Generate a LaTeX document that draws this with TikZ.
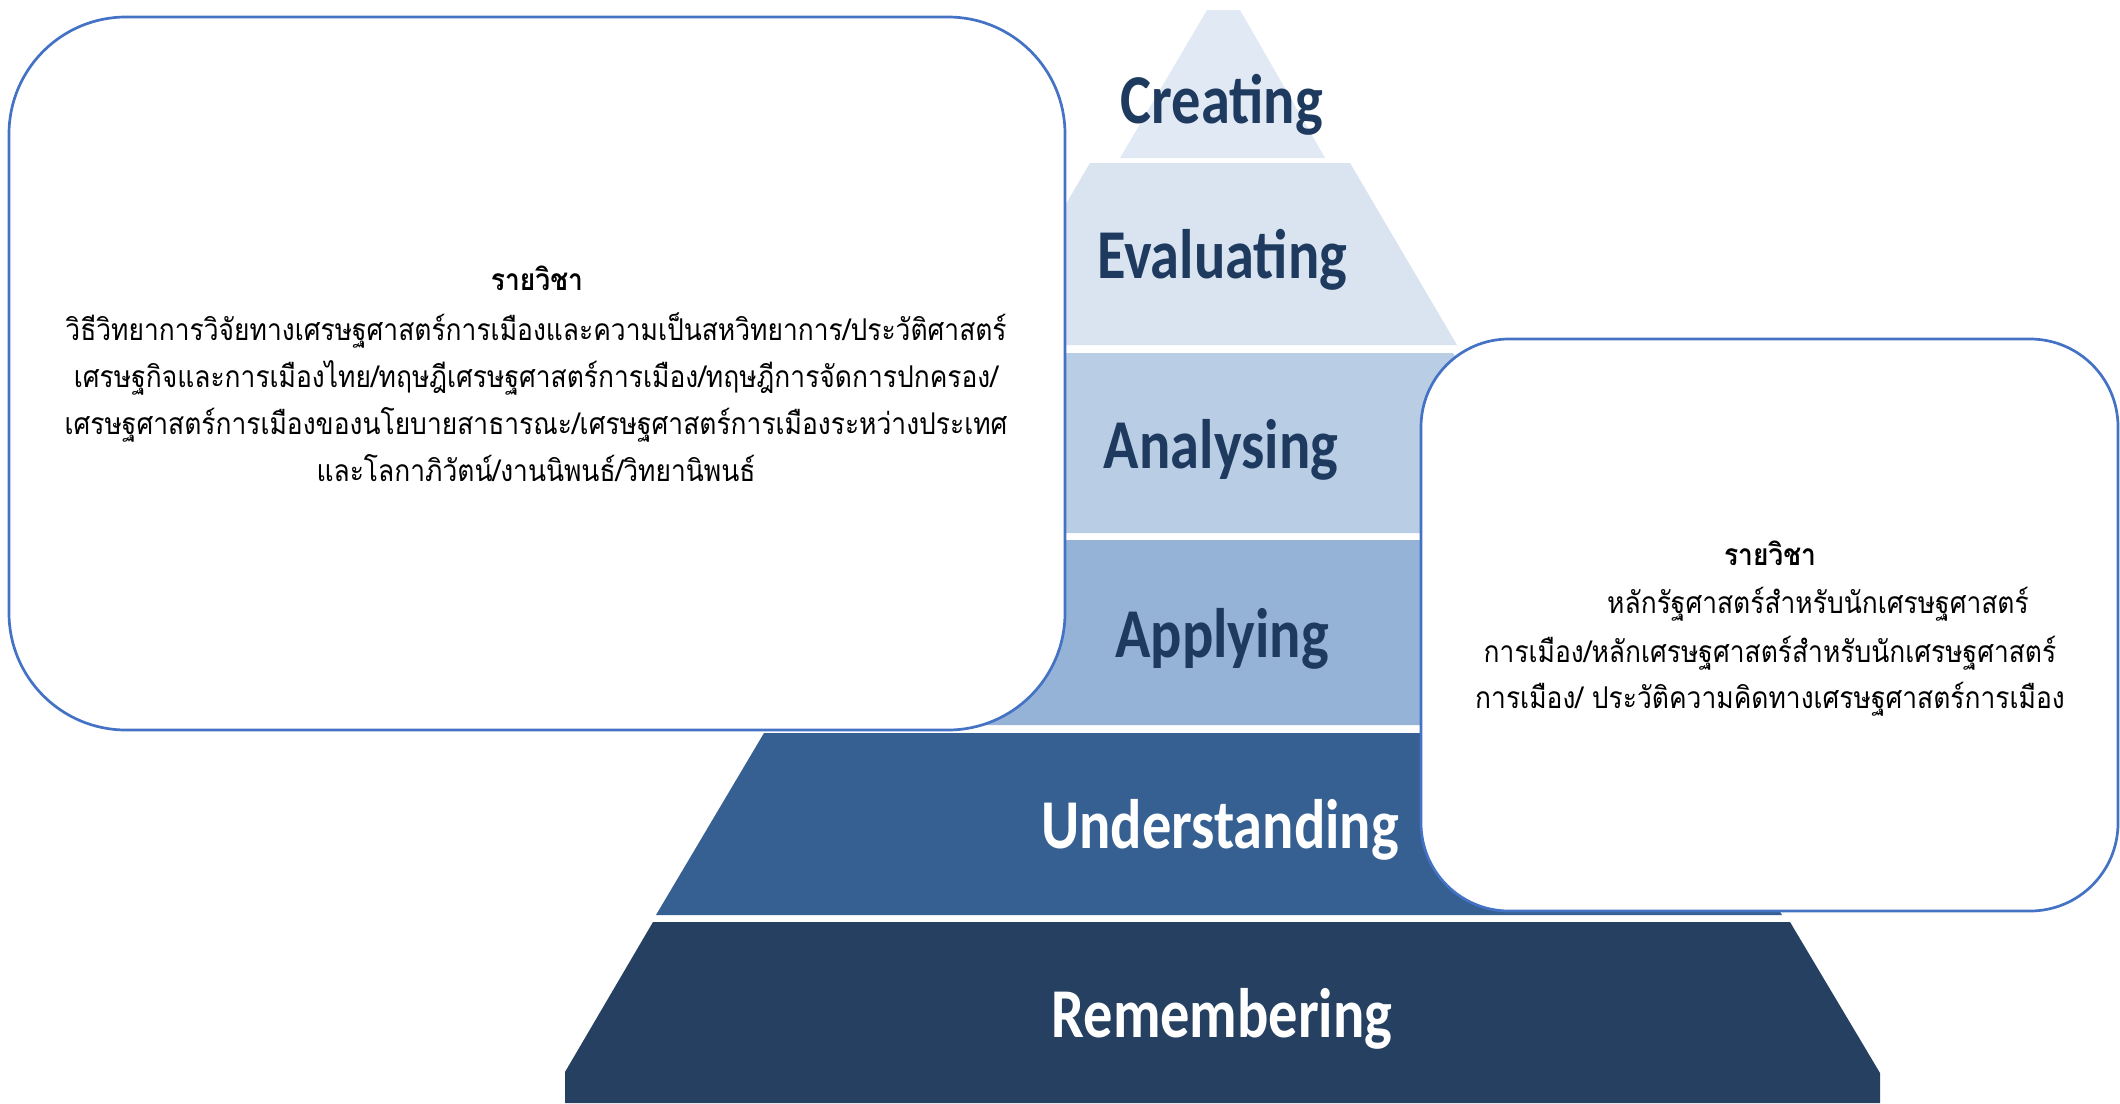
\documentclass[tikz,border=0pt]{standalone}
\usepackage{fontspec}
\newfontfamily\carlito{Carlito}
\newfontfamily\thaifont[Script=Thai]{Loma}
\definecolor{bCreate}{HTML}{E1E9F4}
\definecolor{bEval}{HTML}{DAE4F1}
\definecolor{bAnal}{HTML}{B9CDE5}
\definecolor{bApply}{HTML}{95B3D7}
\definecolor{bUnder}{HTML}{376092}
\definecolor{bRemem}{HTML}{254061}
\definecolor{labdark}{HTML}{1F3A5F}
\definecolor{boxline}{HTML}{4472C4}
\tikzset{
  lvl/.style={anchor=base, inner sep=0pt, font=\carlito\bfseries\fontsize{70}{80}\selectfont, xscale=0.835},
  lvldark/.style={lvl, text=labdark},
  lvllight/.style={lvl, text=white},
  card/.style={draw=boxline, line width=2.7pt, fill=white},
  thai/.style={anchor=base, inner sep=0pt, font=\thaifont\fontsize{30}{36}\selectfont, text=black, xscale=0.88},
  thaititle/.style={anchor=base, inner sep=0pt, font=\thaifont\bfseries\fontsize{30}{36}\selectfont, text=black, xscale=0.88},
}
\begin{document}
\begin{tikzpicture}[x=1pt,y=-1pt]
\useasboundingbox[fill=white] (0,0) rectangle (2120,1103);
% pyramid bands
\fill[bCreate] (1207,10) -- (1240,10) -- (1325,158) -- (1120,158) -- cycle;
\fill[bEval] (1090,163) -- (1350,163) -- (1457,345) -- (983,345) -- cycle;
\fill[bAnal] (989,353) -- (1453,353) -- (1559,533) -- (883,533) -- cycle;
\fill[bApply] (876,540) -- (1566,540) -- (1675,725) -- (767,725) -- cycle;
\fill[bUnder] (764,733) -- (1674,733) -- (1782,915) -- (656,915) -- cycle;
\fill[bRemem] (653,922) -- (1790,922) -- (1880,1073) -- (1880,1103) -- (565,1103) -- (565,1072) -- cycle;
% level labels
\node[lvldark] (creating) at (1222,123) {Creating};
\node[lvldark] (evaluating) at (1222,278) {Evaluating};
\node[lvldark] (analysing) at (1221,468) {Analysing};
\node[lvldark] (applying) at (1222,657) {Applying};
\node[lvllight] (understanding) at (1220,848) {Understanding};
\node[lvllight] (remembering) at (1222,1037) {Remembering};
% boxes
\draw[card, rounded corners=117pt] (9,17) rectangle (1065,730);
\draw[card, rounded corners=88pt] (1421,339) rectangle (2118,911);
% left box text
\node[thaititle] (lt) at (537,290) {รายวิชา};
\node[thai] (l1) at (536,340) {วิธีวิทยาการวิจัยทางเศรษฐศาสตร์การเมืองและความเป็นสหวิทยาการ/ประวัติศาสตร์};
\node[thai] (l2) at (536,387) {เศรษฐกิจและการเมืองไทย/ทฤษฎีเศรษฐศาสตร์การเมือง/ทฤษฎีการจัดการปกครอง/};
\node[thai] (l3) at (536,434) {เศรษฐศาสตร์การเมืองของนโยบายสาธารณะ/เศรษฐศาสตร์การเมืองระหว่างประเทศ};
\node[thai] (l4) at (536,481) {และโลกาภิวัตน์/งานนิพนธ์/วิทยานิพนธ์};
% right box text
\node[thaititle] (rt) at (1770,565) {รายวิชา};
\node[thai] (r1) at (1818,613) {หลักรัฐศาสตร์สำหรับนักเศรษฐศาสตร์};
\node[thai] (r2) at (1770,662) {การเมือง/หลักเศรษฐศาสตร์สำหรับนักเศรษฐศาสตร์};
\node[thai] (r3) at (1770,708) {การเมือง/ ประวัติความคิดทางเศรษฐศาสตร์การเมือง};
\end{tikzpicture}
\end{document}
